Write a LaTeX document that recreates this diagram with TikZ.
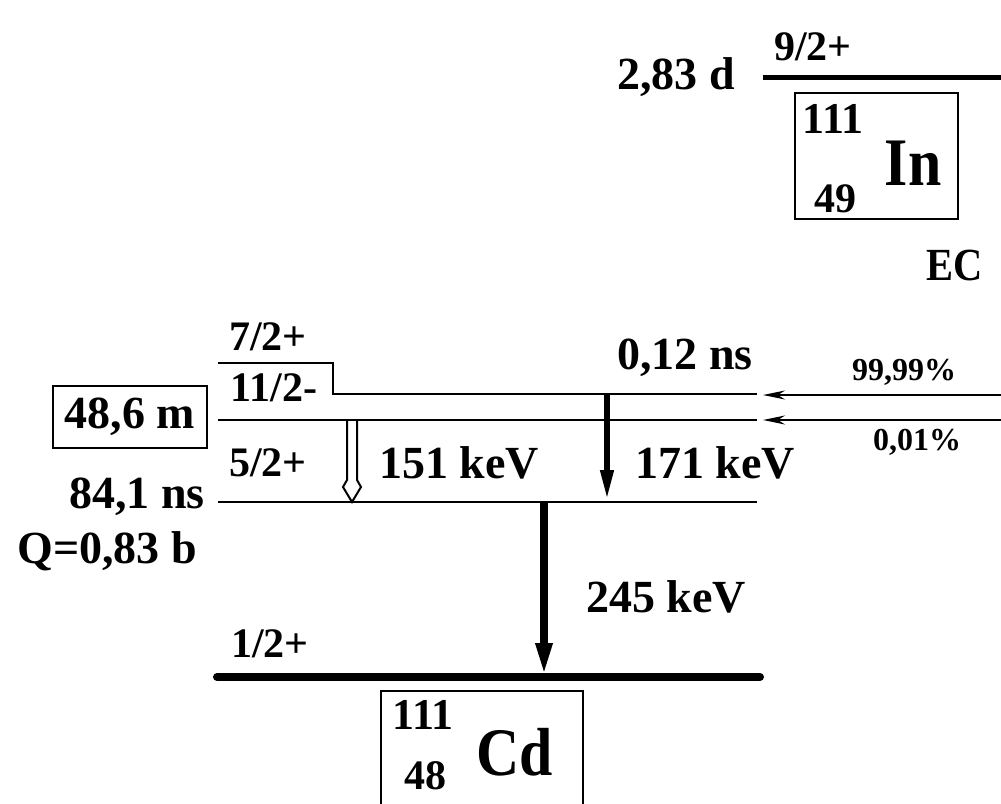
\documentclass[tikz,border=0pt]{standalone}
\usepackage{fontspec}
\setmainfont{Liberation Serif}
\newfontfamily\labfont{Liberation Serif}
\newfontfamily\narrowfont[FakeStretch=0.88]{Liberation Serif}
\usetikzlibrary{arrows.meta}
\tikzset{
  lab/.style={inner sep=0pt, font=\labfont\bfseries\fontsize{46}{46}\selectfont},
  spin/.style={inner sep=0pt, font=\labfont\bfseries\fontsize{42}{42}\selectfont},
  smalllab/.style={inner sep=0pt, font=\labfont\bfseries\fontsize{32}{32}\selectfont},
  elem/.style={inner sep=0pt, font=\narrowfont\bfseries\fontsize{68}{68}\selectfont},
  massno/.style={inner sep=0pt, font=\labfont\bfseries\fontsize{44}{44}\selectfont},
  atomno/.style={inner sep=0pt, font=\labfont\bfseries\fontsize{42}{42}\selectfont},
  level/.style={line width=2.8pt},
  box/.style={draw, line width=2pt, inner sep=0pt},
  gamma/.style={line width=8pt, -{Triangle[length=34pt,width=15pt]}},
  feed/.style={line width=2.2pt, -{Stealth[length=22pt,width=9pt]}},
}
\begin{document}
\begin{tikzpicture}[x=1pt,y=-1pt]
\useasboundingbox (0,0) rectangle (1001,803);
\clip (0,0) rectangle (1001,803);

% ---- parent 111In ----
\draw[line width=5pt] (763,77) coordinate (inL) -- (1010,77) coordinate (inR);
\node[spin] (inspin) at (813,47) {9/2+};
\node[lab, anchor=east] (inhl) at (735,77) {2,83 d};
\draw[box] (795,93) rectangle (958,219);
\node[massno] (inA) at (833,119) {111};
\node[elem] (inSym) at (913,163) {In};
\node[atomno] (inZ) at (835,199) {49};
\node[inner sep=0pt, font=\narrowfont\bfseries\fontsize{46}{46}\selectfont, anchor=west] (ec) at (926,265) {EC};

% ---- daughter 111Cd levels ----
\draw[level] (218,363) -- (333,363) -- (333,394) -- (757,394) coordinate (l7end);
\draw[level] (218,420) -- (757,420) coordinate (l11end);
\draw[level] (218,502) -- (757,502);
\draw[line width=8pt, line cap=round] (217,677) -- (760,677);

\node[spin] (s7) at (268,337) {7/2+};
\node[spin] (s11) at (274,388) {11/2-};
\node[spin] (s5) at (268,463) {5/2+};
\node[spin] (s1) at (270,644) {1/2+};

\node[box, minimum width=154pt, minimum height=62pt, lab] (iso) at (130,417) {48,6 m};
\node[lab, anchor=east] (hl5) at (205,497) {84,1 ns};
\node[lab, anchor=east] (q5) at (197,551) {Q=0,83 b};
\node[lab] (hl7) at (685,358) {0,12 ns};

% ---- EC feeding ----
\coordinate (f1s) at (1010,395);
\coordinate (f1e) at (763,395);
\coordinate (f2s) at (1010,420);
\coordinate (f2e) at (763,420);
\draw[feed] (f1s) -- (f1e);
\draw[feed] (f2s) -- (f2e);
\node[smalllab] (p1) at (904,372) {99,99\%};
\node[smalllab] (p2) at (917,442) {0,01\%};

% ---- gamma transitions ----
\draw[line width=2pt, fill=white] (347,421) -- (347,480) -- (343,487) -- (352,502)
  -- (361,487) -- (357,480) -- (357,421);
\node[lab] (g151) at (459,463) {151 keV};

\coordinate (g171s) at (607,394);
\coordinate (g171e) at (607,502);
\draw[line width=6.5pt, -{Triangle[length=32pt,width=12pt]}] (g171s) -- (g171e);
\node[lab] (g171) at (715,463) {171 keV};

\coordinate (g245s) at (544,502);
\coordinate (g245e) at (544,677);
\draw[gamma] (g245s) -- (g245e);
\node[lab] (g245) at (666,597) {245 keV};

% ---- 111Cd label box ----
\draw[box] (381,691) rectangle (583,830);
\node[massno] (cdA) at (423,715) {111};
\node[elem] (cdSym) at (515,752) {Cd};
\node[atomno] (cdZ) at (425,776) {48};
\end{tikzpicture}
\end{document}
